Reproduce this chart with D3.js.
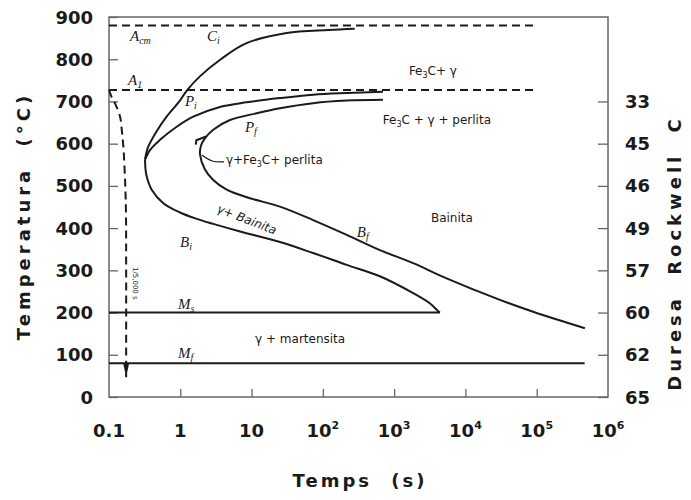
<!DOCTYPE html>
<html>
<head>
<meta charset="utf-8">
<script src="https://cdn.jsdelivr.net/npm/d3@7"></script>
<style>
  body { margin: 0; background: #fff; }
  svg { display: block; }
</style>
</head>
<body>
<div id="chart"></div>
<script>

// axis ticks
var timeTicks = [0.1, 1, 10, 100, 1e3, 1e4, 1e5, 1e6];
var timeTickBase = ["0.1", "1", "10", "10", "10", "10", "10", "10"];
var timeTickExp = ["", "", "", "2", "3", "4", "5", "6"];
var tempTicks = [0, 100, 200, 300, 400, 500, 600, 700, 800, 900];
var hardTicks = [0, 100, 200, 300, 400, 500, 600, 700];
var hardLabels = ["65", "62", "60", "57", "49", "46", "45", "33"];

// curves: [time (s), temperature (°C)]
var csCurve = [[0.32, 562], [0.35, 590], [0.45, 625], [0.65, 665], [0.97, 700], [1.25, 727],
    [1.9, 760], [3.7, 800], [8.5, 838], [31, 862], [120, 869], [280, 872]];
var psCurve = [[0.32, 562], [0.38, 586], [0.52, 609], [0.89, 640], [1.52, 664], [3.6, 687],
    [8.5, 698], [25, 708], [73, 716], [216, 720], [697, 723]];
var pfCurve = [[697, 704], [216, 702], [73, 696], [25, 684], [11.8, 672], [4.98, 656], [2.9, 633],
    [2.2, 612], [1.95, 595], [1.89, 575], [2.2, 540], [2.9, 514], [4.48, 491], [9, 472], [25, 451],
    [73, 419], [216, 384], [631, 348], [1850, 317], [5440, 281], [30500, 230], [89000, 202], [474000, 163]];
var bsCurve = [[0.32, 562], [0.325, 540], [0.338, 522], [0.397, 491], [0.578, 459], [0.99, 437],
    [1.7, 422], [2.9, 410], [6.9, 392], [25, 367], [73, 341], [216, 313], [631, 286], [1850, 246],
    [3160, 222], [4150, 203], [4380, 200]];
var coolCurve = [[0.1, 727], [0.108, 712], [0.121, 696], [0.143, 664], [0.151, 633], [0.159, 593],
    [0.168, 514], [0.173, 436], [0.174, 330], [0.174, 47]];
var hookMark = [[1.65, 598], [1.68, 608], [2.3, 617]];
var leader = [[2.01, 573], [2.8, 559], [4.1, 557]];

// horizontal lines: temperature, start time, end time
var acmLine = [880, 0.1, 9e4];
var a1Line = [727, 0.1, 9e4];
var msLine = [200, 0.1, 4380];
var mfLine = [80, 0.1, 4.7e5];

// annotations: parts, time, temperature
var serifLabels = [
    { main: "A", sub: "cm", t: 0.197, T: 844 },
    { main: "C", sub: "i", t: 2.37, T: 844 },
    { main: "A", sub: "1", t: 0.185, T: 739 },
    { main: "P", sub: "i", t: 1.16, T: 690 },
    { main: "P", sub: "f", t: 8.07, T: 628 },
    { main: "B", sub: "i", t: 0.99, T: 355 },
    { main: "B", sub: "f", t: 300, T: 380 },
    { main: "M", sub: "s", t: 0.93, T: 208 },
    { main: "M", sub: "f", t: 0.93, T: 92 }
];
var regionLabels = [
    { parts: [["Fe"], ["3", 1], ["C+ γ"]], t: 3500, T: 763, anchor: "middle" },
    { parts: [["Fe"], ["3", 1], ["C + γ + perlita"]], t: 3980, T: 647, anchor: "middle" },
    { parts: [["γ+Fe"], ["3", 1], ["C+ perlita"]], t: 4.37, T: 552, anchor: "start" },
    { parts: [["Bainita"]], t: 6460, T: 415, anchor: "middle" },
    { parts: [["γ + martensita"]], t: 11.2, T: 128, anchor: "start" }
];

var W = 691, H = 500;
var svg = d3.select("#chart").append("svg")
    .attr("width", W)
    .attr("height", H);

var x = d3.scaleLog().domain([0.1, 1e6]).range([109, 608]);
var y = d3.scaleLinear().domain([0, 900]).range([397, 17]);

var line = d3.line()
    .x(function(d) { return x(d[0]); })
    .y(function(d) { return y(d[1]); })
    .curve(d3.curveCatmullRom.alpha(0.5));

var ink = "#1a1a1a";
var frameColor = "#666";

// frame
svg.append("rect")
    .attr("x", x(0.1)).attr("y", y(900))
    .attr("width", x(1e6) - x(0.1)).attr("height", y(0) - y(900))
    .attr("fill", "none").attr("stroke", frameColor).attr("stroke-width", 1.5);

// left axis
var leftAxis = svg.append("g")
    .attr("transform", "translate(" + x(0.1) + ",0)")
    .call(d3.axisRight(y).tickValues(tempTicks).tickSize(9).tickFormat(""));
leftAxis.select(".domain").remove();
leftAxis.selectAll("line").attr("stroke", frameColor).attr("stroke-width", 1.3);

svg.append("g").selectAll("text")
    .data(tempTicks)
    .enter().append("text")
    .attr("x", 93)
    .attr("y", function(d) { return y(d) + 6.5; })
    .attr("text-anchor", "end")
    .attr("font-family", "DejaVu Sans")
    .attr("font-weight", "bold")
    .attr("font-size", 18)
    .attr("fill", ink)
    .text(function(d) { return d; });

// right axis
var rightAxis = svg.append("g")
    .attr("transform", "translate(" + x(1e6) + ",0)")
    .call(d3.axisLeft(y).tickValues(hardTicks).tickSize(10).tickFormat(""));
rightAxis.select(".domain").remove();
rightAxis.selectAll("line").attr("stroke", frameColor).attr("stroke-width", 1.3);

svg.append("g").selectAll("text")
    .data(hardTicks)
    .enter().append("text")
    .attr("x", 625)
    .attr("y", function(d) { return y(d) + 6.5; })
    .attr("font-family", "DejaVu Sans")
    .attr("font-weight", "bold")
    .attr("font-size", 18)
    .attr("fill", ink)
    .text(function(d, i) { return hardLabels[i]; });

// bottom axis
var bottomAxis = svg.append("g")
    .attr("transform", "translate(0," + y(0) + ")")
    .call(d3.axisTop(x).tickValues(timeTicks.slice(1, 7)).tickSize(8).tickFormat(""));
bottomAxis.select(".domain").remove();
bottomAxis.selectAll("line").attr("stroke", frameColor).attr("stroke-width", 1.3);

var xLab = svg.append("g").selectAll("text")
    .data(timeTicks)
    .enter().append("text")
    .attr("x", function(d) { return x(d); })
    .attr("y", 437)
    .attr("text-anchor", "middle")
    .attr("font-family", "DejaVu Sans")
    .attr("font-weight", "bold")
    .attr("font-size", 18)
    .attr("fill", ink);
xLab.append("tspan").text(function(d, i) { return timeTickBase[i]; });
xLab.append("tspan")
    .attr("dy", -8)
    .attr("font-size", 11)
    .text(function(d, i) { return timeTickExp[i]; });

// axis titles
svg.append("text")
    .attr("x", 360).attr("y", 487)
    .attr("text-anchor", "middle")
    .attr("font-family", "DejaVu Sans").attr("font-weight", "bold").attr("font-size", 18)
    .attr("letter-spacing", 3).attr("word-spacing", 10)
    .attr("fill", ink)
    .text("Temps (s)");

svg.append("text")
    .attr("transform", "translate(30,216) rotate(-90)")
    .attr("text-anchor", "middle")
    .attr("font-family", "DejaVu Sans").attr("font-weight", "bold").attr("font-size", 18)
    .attr("letter-spacing", 4).attr("word-spacing", 10)
    .attr("fill", ink)
    .text("Temperatura (°C)");

svg.append("text")
    .attr("transform", "translate(681,253) rotate(-90)")
    .attr("text-anchor", "middle")
    .attr("font-family", "DejaVu Sans").attr("font-weight", "bold").attr("font-size", 18)
    .attr("letter-spacing", 4).attr("word-spacing", 10)
    .attr("fill", ink)
    .text("Duresa Rockwell C");

// dashed equilibrium lines
var dashed = svg.append("g")
    .attr("stroke", ink).attr("stroke-width", 2)
    .attr("stroke-dasharray", "8,5").attr("fill", "none");
[acmLine, a1Line].forEach(function(l) {
    dashed.append("line")
        .attr("x1", x(l[1])).attr("x2", x(l[2]))
        .attr("y1", y(l[0])).attr("y2", y(l[0]));
});
dashed.append("path").attr("d", line(coolCurve));

// arrow at the end of the cooling curve
var last = coolCurve[coolCurve.length - 1];
svg.append("path")
    .attr("d", "M" + (x(last[0]) - 3) + "," + (y(last[1]) - 14) +
        "L" + (x(last[0]) + 3) + "," + (y(last[1]) - 14) +
        "L" + x(last[0]) + "," + y(last[1]) + "Z")
    .attr("fill", ink);

// solid lines
var solid = svg.append("g")
    .attr("stroke", ink).attr("stroke-width", 2).attr("fill", "none");
[msLine, mfLine].forEach(function(l) {
    solid.append("line")
        .attr("x1", x(l[1])).attr("x2", x(l[2]))
        .attr("y1", y(l[0])).attr("y2", y(l[0]));
});
[csCurve, psCurve, pfCurve, bsCurve].forEach(function(c) {
    solid.append("path").attr("d", line(c));
});
solid.append("path").attr("d", d3.line()
    .x(function(d) { return x(d[0]); })
    .y(function(d) { return y(d[1]); })(hookMark));
solid.append("path").attr("stroke-width", 1.2).attr("d", line(leader));

// italic serif labels
serifLabels.forEach(function(l) {
    var t = svg.append("text")
        .attr("x", x(l.t)).attr("y", y(l.T))
        .attr("font-family", "Liberation Serif").attr("font-style", "italic")
        .attr("font-size", 15).attr("fill", ink);
    t.append("tspan").text(l.main);
    t.append("tspan").attr("dy", 3).attr("font-size", 10).text(l.sub);
});

// region labels
regionLabels.forEach(function(l) {
    var t = svg.append("text")
        .attr("x", x(l.t)).attr("y", y(l.T))
        .attr("text-anchor", l.anchor)
        .attr("font-family", "DejaVu Sans").attr("font-size", 12).attr("fill", ink);
    l.parts.forEach(function(p, i) {
        var s = t.append("tspan").text(p[0]);
        if (p[1]) s.attr("dy", 3).attr("font-size", 8);
        else if (i > 0) s.attr("dy", -3);
    });
});

// rotated labels
svg.append("text")
    .attr("transform", "translate(" + x(3.16) + "," + y(438) + ") rotate(21)")
    .attr("font-family", "DejaVu Sans").attr("font-size", 12).attr("fill", ink)
    .attr("font-style", "italic")
    .text("γ+ Bainita");

svg.append("text")
    .attr("transform", "translate(" + (x(0.204) + 2) + "," + y(308) + ") rotate(90)")
    .attr("font-family", "DejaVu Sans").attr("font-size", 7).attr("fill", ink)
    .text("1/5,000 s");

</script>
</body>
</html>
